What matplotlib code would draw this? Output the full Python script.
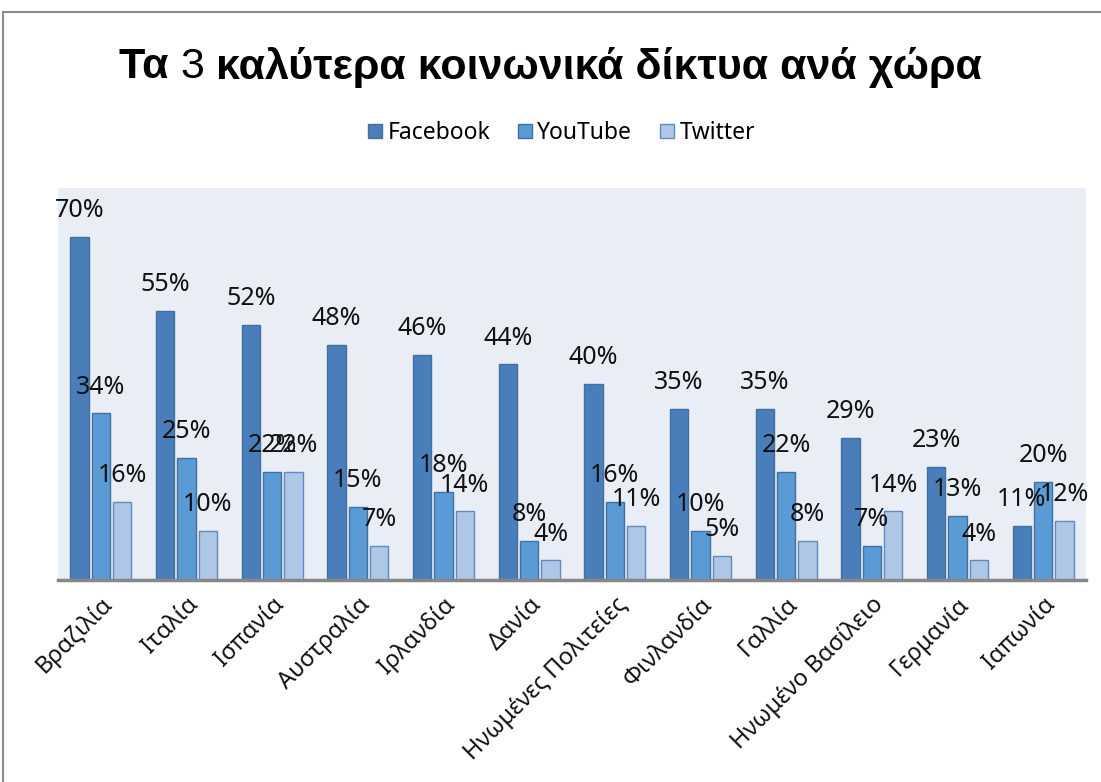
import numpy as np
import matplotlib
matplotlib.use("Agg")
import matplotlib.pyplot as plt
from matplotlib.lines import Line2D

# data
countries = ["Βραζιλία", "Ιταλία", "Ισπανία", "Αυστραλία", "Ιρλανδία", "Δανία",
             "Ηνωμένες Πολιτείες", "Φινλανδία", "Γαλλία", "Ηνωμένο Βασίλειο",
             "Γερμανία", "Ιαπωνία"]
facebook = [70, 55, 52, 48, 46, 44, 40, 35, 35, 29, 23, 11]
youtube = [34, 25, 22, 15, 18, 8, 16, 10, 22, 7, 13, 20]
twitter = [16, 10, 22, 7, 14, 4, 11, 5, 8, 14, 4, 12]

series_names = ["Facebook", "YouTube", "Twitter"]
colors = ["#4A7EBB", "#5B9BD5", "#AFC7E6"]
edges = ["#41719C", "#41719C", "#5F8AC0"]

W, H = 1101, 782
fig = plt.figure(figsize=(W / 100, H / 100), dpi=100)

# outer chart frame (top and left visible)
fig.add_artist(Line2D([3 / W, 1.0], [1 - 12 / H, 1 - 12 / H], color="#8C8C8C", lw=1.5))
fig.add_artist(Line2D([3 / W, 3 / W], [0.0, 1 - 12 / H], color="#8C8C8C", lw=1.5))

ax = fig.add_axes([58 / W, 1 - 580 / H, (1086 - 58) / W, (580 - 188) / H])
ax.set_facecolor("#E9EDF6")

x = np.arange(len(countries))
step = 0.25
for i, (vals, name) in enumerate(zip([facebook, youtube, twitter], series_names)):
    pos = x + (i - 1) * step
    bars = ax.bar(pos, vals, width=0.215, color=colors[i], edgecolor=edges[i],
                  linewidth=1.0, label=name, zorder=2)
    for b, v in zip(bars, vals):
        ax.annotate(f"{v}%", (b.get_x() + b.get_width() / 2, v),
                    xytext=(0, 10), textcoords="offset points",
                    ha="center", va="bottom", fontsize=18,
                    family="Noto Sans", color="#111111", zorder=3)

ax.set_xlim(-0.5, len(countries) - 0.5)
ax.set_ylim(0, 80)
ax.set_yticks([])
ax.set_xticks(x)
ax.set_xticklabels(countries, rotation=45, ha="right", rotation_mode="anchor",
                   fontsize=17, family="Noto Sans", color="#111111")
ax.tick_params(axis="x", length=0, pad=9)
for s in ["top", "left", "right"]:
    ax.spines[s].set_visible(False)
ax.spines["bottom"].set_color("#878787")
ax.spines["bottom"].set_linewidth(2.5)

# title: "3" is drawn in regular weight, the rest bold
title_parts = [("Τα ", "bold"), ("3", "normal"), (" καλύτερα κοινωνικά δίκτυα ανά χώρα", "bold")]
title_y = 1 - 67 / H
texts = [fig.text(0, title_y, s, ha="left", va="center", fontsize=31,
                  fontweight=w, family="Liberation Sans") for s, w in title_parts]
fig.canvas.draw()
r = fig.canvas.get_renderer()
widths = [t.get_window_extent(r).width for t in texts]
xpos = (W - sum(widths)) / 2
for t, w in zip(texts, widths):
    t.set_x(xpos / W)
    xpos += w

fig.legend(loc="center", bbox_to_anchor=(0.51, 1 - 133 / H), ncol=3, frameon=False,
           handlelength=0.6, handleheight=0.6, handletextpad=0.25,
           columnspacing=1.2, prop={"family": "Noto Sans", "size": 16.5})

fig.savefig("out.png", dpi=100)
